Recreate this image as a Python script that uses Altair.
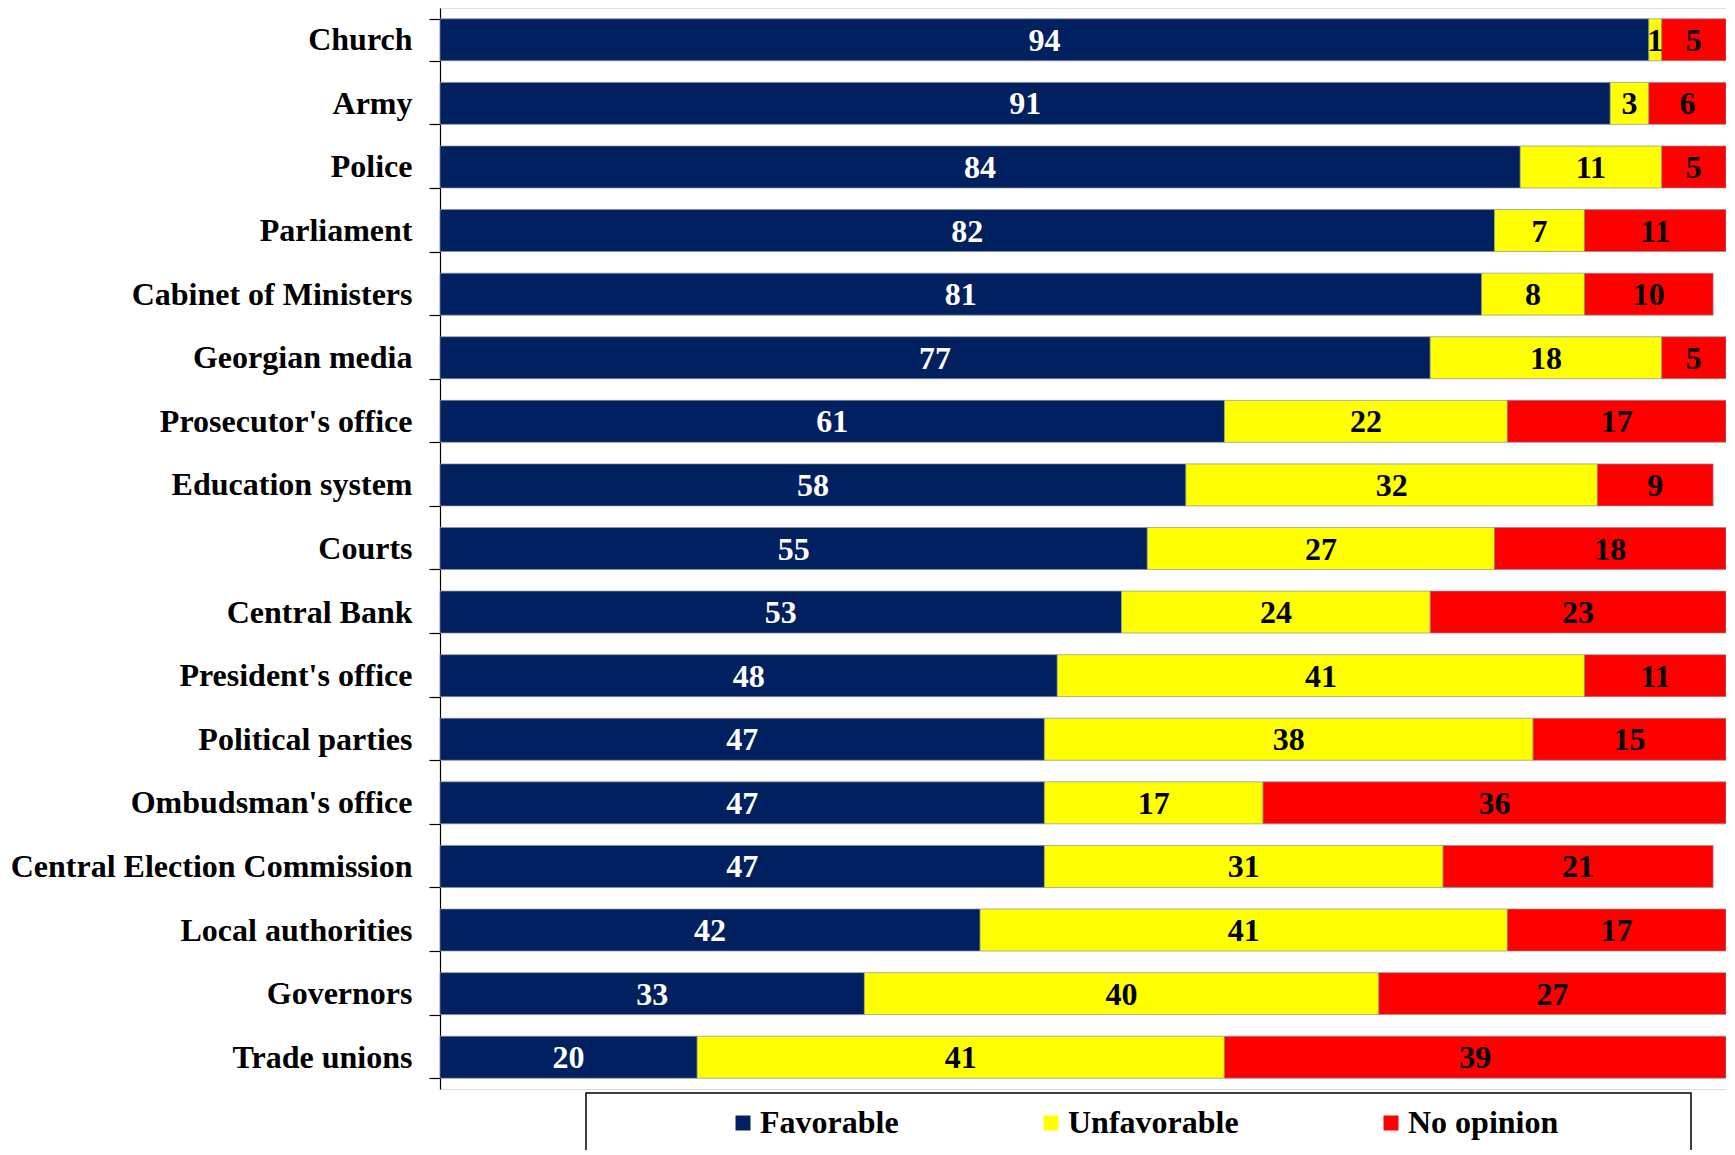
import altair as alt
import pandas as pd

categories = ["Church", "Army", "Police", "Parliament", "Cabinet of Ministers",
              "Georgian media", "Prosecutor's office", "Education system", "Courts",
              "Central Bank", "President's office", "Political parties",
              "Ombudsman's office", "Central Election Commission",
              "Local authorities", "Governors", "Trade unions"]
favorable = [94, 91, 84, 82, 81, 77, 61, 58, 55, 53, 48, 47, 47, 47, 42, 33, 20]
unfavorable = [1, 3, 11, 7, 8, 18, 22, 32, 27, 24, 41, 38, 17, 31, 41, 40, 41]
no_opinion = [5, 6, 5, 11, 10, 5, 17, 9, 18, 23, 11, 15, 36, 21, 17, 27, 39]

series = ["Favorable", "Unfavorable", "No opinion"]
colors = ["#002060", "#FFFF00", "#FF0000"]
text_colors = ["white", "black", "black"]

rows = []
for i, cat in enumerate(categories):
    start = 0
    for s, vals, tc in zip(series, [favorable, unfavorable, no_opinion], text_colors):
        v = vals[i]
        rows.append({"cat": cat, "series": s, "value": v, "start": start,
                     "end": start + v, "mid": start + v / 2, "tc": tc,
                     "order": series.index(s)})
        start += v
df = pd.DataFrame(rows)

FONT = "Liberation Serif"

y_axis = alt.Axis(title=None, labelFont=FONT, labelFontSize=32,
                  labelFontWeight="bold", labelColor="black",
                  labelPadding=17, tickSize=11, tickColor="black",
                  tickBand="extent", domainColor="black", grid=False,
                  domainWidth=1.2, tickWidth=1.2, labelLimit=600)
y_scale = alt.Scale(paddingInner=0.34, paddingOuter=0.17)
x_scale = alt.Scale(domain=[0, 100], nice=False, zero=True)

bars = alt.Chart(df).mark_bar(stroke="#8a8f9a", strokeWidth=0.7).encode(
    y=alt.Y("cat:N", sort=categories, scale=y_scale, axis=y_axis),
    x=alt.X("start:Q", scale=x_scale, axis=None),
    x2="end:Q",
    color=alt.Color("series:N", sort=series,
                    scale=alt.Scale(domain=series, range=colors),
                    legend=alt.Legend(title=None, orient="none", direction="horizontal",
                                      legendX=287, legendY=1099,
                                      symbolType="square", symbolSize=225,
                                      symbolStrokeWidth=0, labelFont=FONT,
                                      labelFontSize=32, labelFontWeight="bold",
                                      labelColor="black", labelOffset=1,
                                      columnPadding=136, labelLimit=400)),
)

texts = alt.Chart(df).mark_text(font=FONT, fontSize=32, fontWeight="bold",
                                baseline="middle", align="center", dy=1).encode(
    y=alt.Y("cat:N", sort=categories, scale=y_scale, axis=y_axis),
    x=alt.X("mid:Q", scale=x_scale, axis=None),
    text=alt.Text("value:Q"),
    color=alt.Color("tc:N", scale=None),
)

frame = alt.Chart(pd.DataFrame({"a": [0]})).mark_rect(
    filled=False, stroke="black", strokeWidth=1.5).encode(
    x=alt.value(146), x2=alt.value(1251), y=alt.value(1085), y2=alt.value(1250))

chart = alt.layer(bars, texts, frame).resolve_scale(color="independent").properties(
    width=1286, height=1081,
    autosize=alt.AutoSizeParams(type="none"),
    padding={"left": 432, "top": 0, "right": 0, "bottom": 61},
).configure_view(strokeWidth=0, stroke="transparent", fill="white"
).configure_axis(grid=False).configure(background="white")

chart.save("out.html", embed_options={"renderer": "svg", "actions": False})
